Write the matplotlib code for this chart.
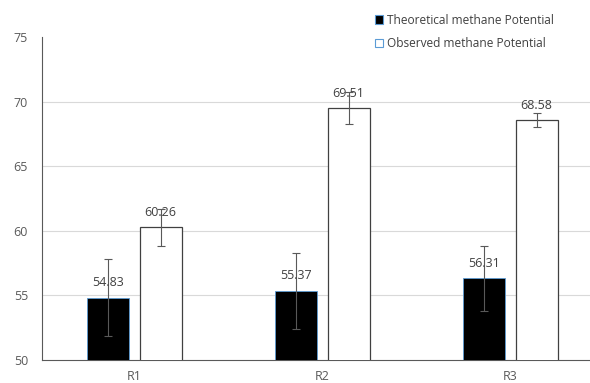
import numpy as np
import matplotlib
matplotlib.use("Agg")
import matplotlib.pyplot as plt
from matplotlib.patches import Patch

plt.rcParams['font.family'] = ['Open Sans', 'DejaVu Sans']

# data
reactors = ["R1", "R2", "R3"]
theoretical = [54.83, 55.37, 56.31]
theoretical_err = [2.95, 2.95, 2.5]
observed = [60.26, 69.51, 68.58]
observed_err = [1.4, 1.25, 0.55]

fig = plt.figure(figsize=(5.9, 3.83), dpi=100)
ax = fig.add_axes([42 / 590, 1 - 360 / 383, 548 / 590, 323 / 383])

x = np.arange(len(reactors))
w = 0.223
off = 0.141
ekw = dict(ecolor="#595959", elinewidth=0.8, capsize=3, capthick=0.8)

ax.bar(x - off, theoretical, w, color="black", edgecolor="#5b9bd5",
       linewidth=0.6, yerr=theoretical_err, error_kw=ekw, zorder=3)
ax.bar(x + off, observed, w, color="white", edgecolor="#404040",
       linewidth=0.9, yerr=observed_err, error_kw=ekw, zorder=3)

for xs, vals in ((x - off, theoretical), (x + off, observed)):
    for xi, v in zip(xs, vals):
        ax.annotate(f"{v:.2f}", (xi, v), xytext=(0, 6), textcoords="offset points",
                    ha="center", va="bottom", fontsize=9, color="#404040", zorder=4)

ax.set_ylim(50, 75)
ax.set_xlim(-0.49, 2.425)
ax.set_yticks([50, 55, 60, 65, 70, 75])
ax.set_xticks(x)
ax.set_xticklabels(reactors)
ax.tick_params(length=0, labelsize=9, colors="#595959")
ax.tick_params(axis="y", pad=10)
ax.tick_params(axis="x", pad=7)

ax.yaxis.grid(True, color="#d9d9d9", linewidth=0.8, zorder=0)
ax.set_axisbelow(True)
ax.get_ygridlines()[-1].set_visible(False)
ax.get_ygridlines()[0].set_visible(False)

for s in ("top", "right"):
    ax.spines[s].set_visible(False)
ax.spines["left"].set_color("#595959")
ax.spines["bottom"].set_color("#595959")

handles = [Patch(facecolor="black", edgecolor="#5b9bd5", linewidth=0.8,
                 label="Theoretical methane Potential"),
           Patch(facecolor="white", edgecolor="#5b9bd5", linewidth=0.8,
                 label="Observed methane Potential")]
fig.legend(handles=handles, loc="upper left", bbox_to_anchor=(364 / 590, 1 - 3 / 383),
           frameon=False, fontsize=8.6, labelcolor="#404040", handlelength=0.7,
           handleheight=0.7, handletextpad=0.3, labelspacing=0.85)

fig.savefig("out.png", dpi=100)
